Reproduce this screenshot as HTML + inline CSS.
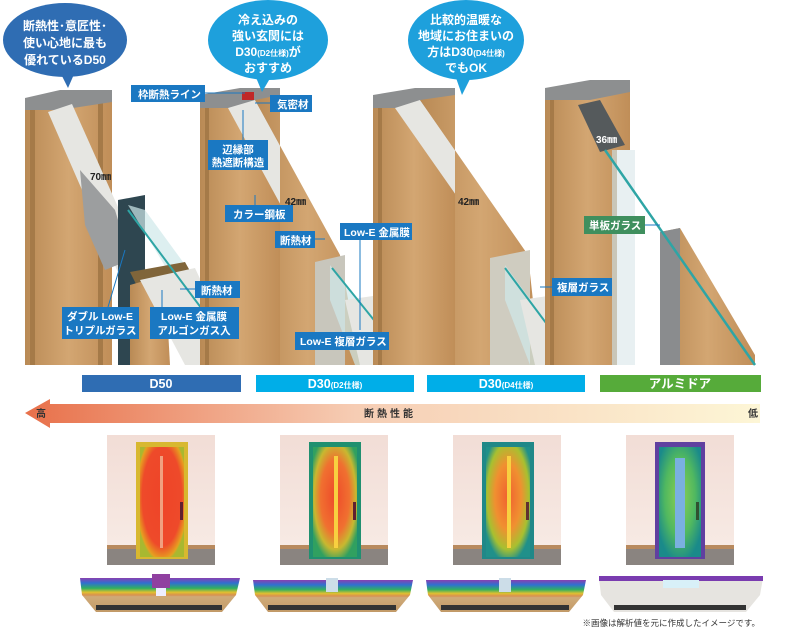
<!DOCTYPE html>
<html><head><meta charset="utf-8"><style>
html,body{margin:0;padding:0;background:#fff;}
svg{display:block;font-family:"Liberation Sans","Noto Sans CJK JP",sans-serif;}
.lb{fill:#1a78c2;}
.lt{fill:#fff;font-size:10.5px;font-weight:bold;}
.bt{fill:#fff;font-size:12.5px;font-weight:bold;text-anchor:middle;}
</style></head><body>
<svg width="794" height="633" viewBox="0 0 794 633" xmlns="http://www.w3.org/2000/svg">
<defs>
<linearGradient id="wood" x1="0" x2="1"><stop offset="0" stop-color="#b98a55"/><stop offset="0.5" stop-color="#d3a672"/><stop offset="1" stop-color="#c08e58"/></linearGradient>
<linearGradient id="arr" x1="0" x2="1"><stop offset="0" stop-color="#e8704a"/><stop offset="0.45" stop-color="#f6cdb4"/><stop offset="1" stop-color="#fdf6d6"/></linearGradient>
<radialGradient id="hot1" cx="0.5" cy="0.45" r="0.6"><stop offset="0" stop-color="#ee4428"/><stop offset="0.75" stop-color="#ee4a2a"/><stop offset="0.95" stop-color="#e6a020"/><stop offset="1" stop-color="#a8b830"/></radialGradient>
<radialGradient id="hot2" cx="0.5" cy="0.45" r="0.6"><stop offset="0" stop-color="#ee4a2a"/><stop offset="0.55" stop-color="#f07030"/><stop offset="0.8" stop-color="#c8b830"/><stop offset="1" stop-color="#30a060"/></radialGradient>
<radialGradient id="hot3" cx="0.5" cy="0.45" r="0.6"><stop offset="0" stop-color="#f06030"/><stop offset="0.5" stop-color="#f09030"/><stop offset="0.8" stop-color="#a8c030"/><stop offset="1" stop-color="#20908a"/></radialGradient>
<radialGradient id="hot4" cx="0.5" cy="0.45" r="0.6"><stop offset="0" stop-color="#8ed050"/><stop offset="0.6" stop-color="#50b860"/><stop offset="1" stop-color="#1a8a8a"/></radialGradient>
<linearGradient id="wall" x1="0" y1="0" x2="0" y2="1"><stop offset="0" stop-color="#f2ddd6"/><stop offset="1" stop-color="#f8ece6"/></linearGradient>
<linearGradient id="cs" x1="0" y1="0" x2="0" y2="1"><stop offset="0" stop-color="#8a40b0"/><stop offset="0.15" stop-color="#3070d0"/><stop offset="0.3" stop-color="#30b060"/><stop offset="0.42" stop-color="#e0c030"/><stop offset="0.5" stop-color="#d89050"/><stop offset="0.55" stop-color="#cfaa78"/><stop offset="1" stop-color="#c29a68"/></linearGradient>
</defs>

<!-- Door 1 -->
<polygon points="25,100 112,95 112,365 25,365" fill="url(#wood)"/>
<rect x="30" y="100" width="5" height="265" fill="#a57a48"/>
<rect x="98" y="95" width="5" height="270" fill="#a57a48"/>
<polygon points="25,98 60,90 112,90 112,102 60,110 25,110" fill="#8d8f90"/>
<polygon points="48,112 72,104 155,290 130,300" fill="#e6e6e2"/>
<polygon points="80,170 115,210 130,260 105,270 85,225" fill="#9c9e9f"/>
<polygon points="118,200 145,195 145,365 118,365" fill="#2e4650"/>
<polygon points="128,205 145,210 240,340 240,365 225,365" fill="#cfe8ea" opacity="0.7"/>
<polygon points="130,272 185,262 195,280 140,292" fill="#80653a"/>
<polygon points="130,285 165,275 170,365 130,365" fill="url(#wood)"/>
<polygon points="140,280 195,268 240,365 185,365" fill="#e6e6e2"/>
<line x1="128" y1="210" x2="240" y2="360" stroke="#2ea5a5" stroke-width="2"/>

<!-- Door 2 -->
<polygon points="200,98 280,88 280,365 200,365" fill="url(#wood)"/>
<rect x="205" y="98" width="4" height="267" fill="#a57a48"/>
<polygon points="200,95 240,88 280,88 280,100 240,108 200,108" fill="#8d8f90"/>
<polygon points="228,108 255,100 340,255 315,268" fill="#e6e6e2"/>
<polygon points="255,100 280,95 280,365 360,365 340,255" fill="url(#wood)"/>
<polygon points="315,262 345,255 345,365 315,365" fill="#c8c6bc"/>
<polygon points="330,265 390,345 390,365 355,365 330,300" fill="#cfe8ea" opacity="0.7"/>
<polygon points="345,300 380,295 400,365 360,365" fill="#e6e6e2"/>
<line x1="332" y1="268" x2="390" y2="340" stroke="#2ea5a5" stroke-width="2"/>
<rect x="242" y="92" width="12" height="8" fill="#c02828"/>

<!-- Door 3 -->
<polygon points="373,98 455,88 455,365 373,365" fill="url(#wood)"/>
<rect x="378" y="98" width="4" height="267" fill="#a57a48"/>
<polygon points="373,95 415,88 455,88 455,100 415,108 373,108" fill="#8d8f90"/>
<polygon points="395,108 420,100 528,255 505,265" fill="#e6e6e2"/>
<polygon points="420,100 455,95 455,365 540,365 528,255" fill="url(#wood)"/>
<polygon points="490,258 530,250 530,365 490,365" fill="#cfccc0"/>
<polygon points="505,265 560,340 560,365 530,365 505,300" fill="#cfe8ea" opacity="0.7"/>
<polygon points="520,300 555,295 572,365 535,365" fill="#e6e6e2"/>
<line x1="505" y1="268" x2="555" y2="335" stroke="#2ea5a5" stroke-width="2"/>

<!-- Door 4 -->
<polygon points="545,90 630,80 630,365 545,365" fill="url(#wood)"/>
<rect x="550" y="92" width="4" height="273" fill="#a57a48"/>
<polygon points="545,88 590,80 630,80 630,92 590,100 545,100" fill="#8d8f90"/>
<polygon points="578,105 600,100 625,145 600,152" fill="#555a5c"/>
<rect x="617" y="150" width="18" height="215" fill="#e8f0f2"/>
<rect x="612" y="150" width="5" height="215" fill="#c9c6b8"/>
<polygon points="660,232 680,228 755,355 755,365 660,365" fill="url(#wood)"/>
<polygon points="660,232 680,228 680,365 660,365" fill="#8a8c8e"/>
<line x1="605" y1="150" x2="755" y2="365" stroke="#2ea5a5" stroke-width="2.5"/>

<text x="90" y="180" font-size="10" font-weight="bold" fill="#222">70㎜</text>
<text x="285" y="205" font-size="10" font-weight="bold" fill="#222">42㎜</text>
<text x="458" y="205" font-size="10" font-weight="bold" fill="#222">42㎜</text>
<text x="596" y="143" font-size="10" font-weight="bold" fill="#fff">36㎜</text>

<!-- Bubbles -->
<ellipse cx="65" cy="40" rx="62" ry="37" fill="#2f6db3"/>
<polygon points="60,72 75,72 68,88" fill="#2f6db3"/>
<text text-anchor="middle" font-size="12" font-weight="bold" fill="#fff"><tspan x="65" y="30">断熱性･意匠性･</tspan><tspan x="65" y="47">使い心地に最も</tspan><tspan x="65" y="64">優れているD50</tspan></text>
<ellipse cx="268" cy="40" rx="60" ry="40" fill="#1ea0dc"/>
<polygon points="255,75 272,75 262,92" fill="#1ea0dc"/>
<text text-anchor="middle" font-size="12" font-weight="bold" fill="#fff"><tspan x="268" y="24">冷え込みの</tspan><tspan x="268" y="40">強い玄関には</tspan><tspan x="268" y="56">D30<tspan font-size="8">(D2仕様)</tspan>が</tspan><tspan x="268" y="72">おすすめ</tspan></text>
<ellipse cx="466" cy="40" rx="58" ry="40" fill="#1ea0dc"/>
<polygon points="455,75 472,75 462,95" fill="#1ea0dc"/>
<text text-anchor="middle" font-size="12" font-weight="bold" fill="#fff"><tspan x="466" y="24">比較的温暖な</tspan><tspan x="466" y="40">地域にお住まいの</tspan><tspan x="466" y="56">方はD30<tspan font-size="8">(D4仕様)</tspan></tspan><tspan x="466" y="72">でもOK</tspan></text>

<!-- Callouts -->
<g stroke="#1a78c2" stroke-width="1" fill="none">
<line x1="205" y1="93" x2="245" y2="93"/><line x1="255" y1="103" x2="270" y2="103"/>
<line x1="243" y1="110" x2="243" y2="140"/><line x1="255" y1="195" x2="255" y2="205"/>
<line x1="315" y1="239" x2="325" y2="239"/><line x1="360" y1="240" x2="360" y2="330"/>
<line x1="180" y1="289" x2="195" y2="289"/><line x1="125" y1="250" x2="108" y2="307"/>
<line x1="162" y1="290" x2="162" y2="307"/><line x1="540" y1="287" x2="552" y2="287"/>
<line x1="645" y1="225" x2="660" y2="225"/>
</g>
<rect class="lb" x="131" y="85" width="74" height="17"/><text class="lt" x="138" y="98">枠断熱ライン</text>
<rect class="lb" x="270" y="95" width="42" height="17"/><text class="lt" x="277" y="108">気密材</text>
<rect class="lb" x="208" y="140" width="60" height="30"/><text class="lt" text-anchor="middle"><tspan x="238" y="153">辺縁部</tspan><tspan x="238" y="166">熱遮断構造</tspan></text>
<rect class="lb" x="225" y="205" width="68" height="17"/><text class="lt" x="233" y="218">カラー鋼板</text>
<rect class="lb" x="275" y="231" width="40" height="17"/><text class="lt" x="280" y="244">断熱材</text>
<rect class="lb" x="340" y="223" width="72" height="17"/><text class="lt" x="344" y="236">Low-E 金属膜</text>
<rect class="lb" x="195" y="281" width="45" height="17"/><text class="lt" x="201" y="294">断熱材</text>
<rect class="lb" x="62" y="307" width="77" height="32"/><text class="lt" text-anchor="middle"><tspan x="100" y="320">ダブル Low-E</tspan><tspan x="100" y="334">トリプルガラス</tspan></text>
<rect class="lb" x="150" y="307" width="89" height="32"/><text class="lt" text-anchor="middle"><tspan x="194" y="320">Low-E 金属膜</tspan><tspan x="194" y="334">アルゴンガス入</tspan></text>
<rect class="lb" x="295" y="332" width="94" height="18"/><text class="lt" x="300" y="345">Low-E 複層ガラス</text>
<rect class="lb" x="552" y="278" width="60" height="18"/><text class="lt" x="557" y="291">複層ガラス</text>
<rect x="584" y="216" width="61" height="18" fill="#3f8f5e"/><text class="lt" x="589" y="229">単板ガラス</text>

<!-- Bars -->
<rect x="82" y="375" width="159" height="17" fill="#2f6db3"/><text class="bt" x="161" y="388">D50</text>
<rect x="256" y="375" width="158" height="17" fill="#00aee8"/><text class="bt" x="335" y="388">D30<tspan font-size="8">(D2仕様)</tspan></text>
<rect x="427" y="375" width="158" height="17" fill="#00aee8"/><text class="bt" x="506" y="388">D30<tspan font-size="8">(D4仕様)</tspan></text>
<rect x="600" y="375" width="161" height="17" fill="#56ab3a"/><text class="bt" x="680" y="388">アルミドア</text>

<polygon points="25,413 50,399 50,404 760,404 760,423 50,423 50,428" fill="url(#arr)"/>
<text x="36" y="417" font-size="10" font-weight="bold" fill="#333">高</text>
<text x="364" y="417" font-size="10" font-weight="bold" fill="#333" letter-spacing="3">断熱性能</text>
<text x="748" y="417" font-size="10" font-weight="bold" fill="#333">低</text>

<!-- Thermal images -->
<g>
<rect x="107" y="435" width="108" height="130" fill="url(#wall)"/><rect x="107" y="548" width="108" height="17" fill="#8a8480"/><rect x="107" y="545" width="108" height="4" fill="#b88a5e"/>
<rect x="136" y="442" width="52" height="117" fill="#d8b830"/><rect x="140" y="447" width="44" height="110" fill="url(#hot1)"/><rect x="160" y="456" width="3" height="92" fill="#f0a080"/><rect x="180" y="502" width="3" height="18" fill="#602030"/>
</g>
<g>
<rect x="280" y="435" width="108" height="130" fill="url(#wall)"/><rect x="280" y="548" width="108" height="17" fill="#8a8480"/><rect x="280" y="545" width="108" height="4" fill="#b88a5e"/>
<rect x="309" y="442" width="52" height="117" fill="#209070"/><rect x="313" y="447" width="44" height="110" fill="url(#hot2)"/><rect x="334" y="456" width="4" height="92" fill="#f8d040"/><rect x="353" y="502" width="3" height="18" fill="#602030"/>
</g>
<g>
<rect x="453" y="435" width="108" height="130" fill="url(#wall)"/><rect x="453" y="548" width="108" height="17" fill="#8a8480"/><rect x="453" y="545" width="108" height="4" fill="#b88a5e"/>
<rect x="482" y="442" width="52" height="117" fill="#208888"/><rect x="486" y="447" width="44" height="110" fill="url(#hot3)"/><rect x="507" y="456" width="4" height="92" fill="#f8d040"/><rect x="526" y="502" width="3" height="18" fill="#603030"/>
</g>
<g>
<rect x="626" y="435" width="108" height="130" fill="url(#wall)"/><rect x="626" y="548" width="108" height="17" fill="#8a8480"/><rect x="626" y="545" width="108" height="4" fill="#b88a5e"/>
<rect x="655" y="442" width="50" height="117" fill="#6040a0"/><rect x="659" y="447" width="42" height="110" fill="url(#hot4)"/><rect x="675" y="458" width="10" height="90" fill="#7ab0e0"/><rect x="696" y="502" width="3" height="18" fill="#305030"/>
</g>

<!-- Cross sections -->
<g>
<polygon points="80,578 240,578 236,595 222,612 96,612 82,595" fill="url(#cs)"/><rect x="96" y="605" width="126" height="5" fill="#333"/><rect x="152" y="574" width="18" height="14" fill="#9040a0"/><rect x="156" y="588" width="10" height="8" fill="#eef"/>
</g>
<g>
<polygon points="253,580 413,580 410,595 396,612 268,612 255,595" fill="url(#cs)"/><rect x="268" y="605" width="128" height="5" fill="#333"/><rect x="326" y="578" width="12" height="14" fill="#ccdde8"/>
</g>
<g>
<polygon points="426,580 586,580 583,595 569,612 441,612 428,595" fill="url(#cs)"/><rect x="441" y="605" width="128" height="5" fill="#333"/><rect x="499" y="578" width="12" height="14" fill="#ccdde8"/>
</g>
<g>
<polygon points="599,578 763,578 760,595 746,612 614,612 601,595" fill="#e6e4e0"/><rect x="599" y="576" width="164" height="5" fill="#7a3cb0"/><rect x="663" y="580" width="36" height="8" fill="#d8f0f8"/><rect x="614" y="605" width="132" height="5" fill="#333"/>
</g>

<text x="760" y="626" font-size="8.5" fill="#333" text-anchor="end">※画像は解析値を元に作成したイメージです。</text>
</svg>
</body></html>
